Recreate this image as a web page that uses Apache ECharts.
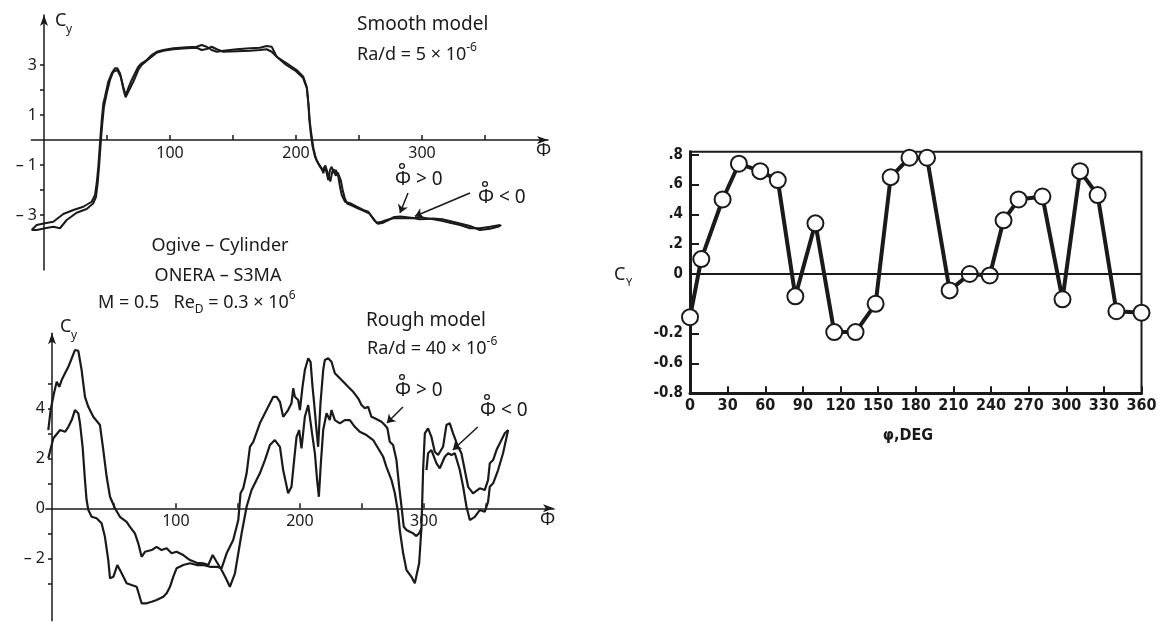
<!DOCTYPE html>
<html>
<head>
<meta charset="utf-8">
<script src="https://cdn.jsdelivr.net/npm/echarts@6/dist/echarts.min.js"></script>
<style>
  html, body { margin: 0; padding: 0; background: #fff; }
  #chart { width: 1158px; height: 625px; }
</style>
</head>
<body>
<div id="chart"></div>
<script>
// ---- Smooth model, two sweep directions (phi in degrees, Cy) ----
const smoothPhiA = [-9.8,-5.8,0.8,7.4,15.3,23.3,31.2,37.8,40.5,41.8,43.1,44.4,45.8,47.1,48.4,51.0,53.7,56.3,58.2,60.3,62.9,64.8,66.9,69.6,72.2,74.8,77.5,81.5,85.5,89.4,94.7,102.6,113.2,121.2,125.2,129.1,133.1,137.1,142.3,152.9,163.5,171.4,176.7,180.7,183.3,184.7,192.6,200.5,205.8,208.5,209.8,210.6,211.7,213.2,215.1,217.7,220.4,221.7,223,224.4,225.6,227,228.3,230.2,231.7,233.6,234.9,236.3,238.9,242.9,248.2,253.4,257.4,261.3,264,268,272,277.2,285.2,293.1,298.4,303.7,309,315.6,322.2,330.2,338.1,346,354,362];
const smoothCyA  = [-3.6,-3.40,-3.33,-3.27,-2.96,-2.80,-2.67,-2.47,-2.20,-1.73,-1.07,-0.13,0.80,1.47,1.73,2.33,2.67,2.87,2.87,2.67,2.13,1.80,2.07,2.40,2.67,2.93,3.07,3.20,3.40,3.53,3.60,3.67,3.71,3.73,3.80,3.73,3.60,3.53,3.57,3.63,3.67,3.69,3.76,3.73,3.47,3.33,3.07,2.80,2.53,2.13,1.47,0.80,0.27,-0.27,-0.67,-0.93,-1.13,-1.33,-1.07,-1.33,-1.60,-1.20,-1.07,-1.33,-1.20,-1.47,-1.87,-2.20,-2.47,-2.53,-2.67,-2.80,-2.87,-3.13,-3.31,-3.27,-3.20,-3.13,-3.13,-3.13,-3.09,-3.13,-3.17,-3.23,-3.31,-3.40,-3.53,-3.53,-3.47,-3.40];
const smoothPhiB = [-9.8,-5.8,0.8,7.4,12.7,18,25.9,33.9,39.1,41.3,42.6,43.7,45,46.3,47.6,49.8,52.4,55,58.2,60.9,63.5,64.8,66.9,70.9,74.8,77.5,81.5,85.5,89.4,94.7,102.6,113.2,121.2,125.2,129.1,133.1,137.1,142.3,152.9,163.5,171.4,176.7,180.7,184.7,192,200,205.5,208.7,210,211,212.2,213.8,216,218.8,221,223.3,225.5,227.2,228.8,230,231.5,233.2,235.5,237,238.5,240.5,244,249,254,258,262,265,268.5,273,278,283,288,293,298,304,309,316,322,330,338,346,354,361,363];
const smoothCyB  = [-3.6,-3.60,-3.53,-3.47,-3.53,-3.20,-2.91,-2.76,-2.53,-2.27,-1.73,-1.07,-0.13,0.67,1.33,1.87,2.40,2.73,2.80,2.53,1.93,1.71,1.93,2.33,2.80,3.00,3.17,3.33,3.49,3.57,3.63,3.67,3.69,3.60,3.64,3.73,3.63,3.53,3.55,3.57,3.60,3.63,3.53,3.33,3.01,2.75,2.49,2.06,1.37,0.72,0.22,-0.33,-0.78,-1.05,-1.22,-1.02,-1.38,-1.66,-1.26,-1.17,-1.43,-1.30,-1.60,-1.99,-2.29,-2.54,-2.61,-2.73,-2.84,-2.93,-3.21,-3.35,-3.32,-3.21,-3.08,-3.06,-3.09,-3.12,-3.17,-3.16,-3.14,-3.17,-3.24,-3.34,-3.44,-3.60,-3.55,-3.46,-3.40];

// ---- Rough model, two sweep directions (null = gap in the trace) ----
const roughPhiP = [-3,1.1,6.5,10.5,13.2,15.9,18.5,21.2,22.6,24.7,26.6,27.9,29.3,32,36,40,42.7,45.4,46.8,49.5,52.7,56.2,60.2,64.2,68.3,72.3,76.3,80.4,84.4,89.8,92.5,95.2,97.8,100.5,105.9,111.3,116.7,122,127.4,132.8,136.8,140.9,146.2,150.3,152.1,154.3,157,159.7,162.4,167.7,173.1,178.5,181.2,183.9,186.5,190.5,193.2,194.6,195.9,198.6,200,202.1,204,206.7,208.6,210.2,211.5,213.4,214.7,216.6,218.8,220.1,222.8,225.5,228.2,232.2,236.2,238.9,243,247,249.7,252.4,255.1,257.7,260.4,263.1,265.8,268.5,270.6,272.5,275.2,276.6,277.9,280.1,282,283.8,286,288.7,291.3,294,296.2,298.1,300,302.1,303.4,306.1,310.2,312.9,316.9,319.6,322.3,325,329,331.7,334.4,337.1,341.1,345.1,349.1,351.8,353.2,355.9,359.9,363.9,368];
const roughCyP  = [2.00,2.80,3.13,3.06,3.26,3.53,3.93,3.80,3.40,2.46,1.13,0.33,-0.07,-0.34,-0.40,-0.60,-1.14,-2.07,-2.80,-2.74,-2.27,-2.60,-3.00,-3.07,-3.14,-3.80,-3.80,-3.74,-3.67,-3.54,-3.40,-3.14,-2.74,-2.40,-2.27,-2.20,-2.27,-2.27,-2.34,-2.34,-2.40,-1.80,-1.27,-0.47,0.60,0.80,1.40,2.46,2.66,3.40,3.93,4.46,4.46,4.26,3.66,3.93,4.20,4.80,4.46,4.33,3.93,4.86,5.53,6.00,5.86,4.86,4.20,3.13,2.46,4.20,5.53,5.93,6.00,5.86,5.40,5.20,5.00,4.86,4.66,4.40,4.13,4.00,4.06,3.66,3.60,3.53,3.46,3.33,3.20,2.66,2.53,2.46,1.93,0.86,0.06,-0.74,-0.87,-0.94,-1.00,-1.11,-1.00,-0.80,null,1.53,2.20,2.33,1.80,1.60,2.06,2.20,2.13,2.20,1.53,0.86,0.06,-0.47,-0.34,-0.07,-0.14,0.26,0.86,1.00,1.53,2.20,3.13];
const roughPhiU = [-3,-1.1,1.6,3.8,5.9,7.8,10.5,13.2,15.9,18.5,21.2,23.9,26.6,29.3,33.3,38.7,41.4,44.1,46.8,50.8,54.8,60.2,62.9,66.9,69.6,72.3,75,80.4,84.4,88.4,92.5,96.5,100.5,105.9,111.3,116.7,122,126.1,129.6,132.8,136.8,140.3,143.5,147.6,153,157,161,167.7,171.8,175.8,179.8,183.9,186.5,190.5,193.2,195.9,197.3,199.4,201.3,204,206.7,208,210.2,212.1,213.9,215.3,216.9,218.8,221.5,224.1,225.5,228.2,232.2,236.2,240.3,244.3,248.3,253.7,259.1,263.1,267.2,269.8,273.9,276.6,279.3,280.6,283.3,286,290,292.7,294,296.2,298.1,299.4,300.8,303.4,306.1,308.8,311.5,315.5,318.2,320.9,323.6,327.6,330.3,333,335.7,339.7,345.1,349.1,351.8,353.2,355.9,358.6,361.3,365.3,368];
const roughCyU  = [3.13,3.93,4.60,5.06,4.86,5.13,5.40,5.66,6.00,6.33,6.30,5.53,4.46,4.06,3.66,3.33,2.33,1.26,0.46,0.00,-0.34,-0.54,-0.74,-1.00,-1.40,-1.94,-1.74,-1.67,-1.54,-1.67,-1.60,-1.80,-1.74,-1.87,-2.07,-2.18,-2.20,-2.27,-1.87,-2.14,-2.47,-2.80,-3.14,-2.60,-1.00,0.06,0.73,1.40,1.93,2.53,2.73,2.46,1.53,0.60,0.86,2.20,2.86,3.13,2.40,3.66,4.13,3.66,2.86,2.20,1.13,0.46,1.80,3.13,3.80,3.53,3.93,3.53,3.40,3.53,3.53,3.26,3.06,2.93,2.73,2.40,2.06,1.66,1.13,0.60,-0.20,-0.87,-1.80,-2.47,-2.74,-3.00,-3.07,-2.20,-0.74,1.53,3.00,3.20,2.86,2.26,2.13,2.46,3.33,3.40,3.00,2.46,2.20,1.53,0.86,0.60,0.80,0.73,1.13,1.80,1.93,2.33,2.60,3.00,3.13];

// ---- Right panel: Cy against roll angle ----
const windPhi = [0,9,26,39,56,70,84,100,115,132,148,160,175,189,207,223,239,250,262,281,297,311,325,340,360];
const windCy  = [-0.29,0.10,0.50,0.74,0.69,0.63,-0.15,0.34,-0.39,-0.39,-0.20,0.65,0.78,0.78,-0.11,0.00,-0.01,0.36,0.50,0.52,-0.17,0.69,0.53,-0.25,-0.26];

// ---- Tick positions and tick label texts ----
const phiTickValues  = [50,100,150,200,250,300,350];
const phiLabelValues = [100,200,300];
const smoothTickValues  = [-3,-2,-1,1,2,3];
const smoothLabelValues = [-3,-1,1,3];
const roughTickValues   = [-3,-2,-1,1,2,3,4,5];
const roughLabelValues  = [-2,0,2,4];
const windTickValues = [-0.8,-0.6,-0.4,0,0.2,0.4,0.6,0.8];
const windTickLabels = ['-0.8','-0.6','-0.2','0','.2','.4','.6','.8'];

const INK = '#1a1a1a';
const FONT = '"Noto Sans", "Open Sans", sans-serif';
const NARROW = '"Liberation Sans Narrow", "DejaVu Sans Condensed", sans-serif';

// panel geometry: the two left panels keep their axes crossing at the origin,
// so each axis is shifted inward from the grid edge by a fixed offset
const SMOOTH = { left: 31.4, top: 15, width: 516.6, height: 255, xOff: -130, yOff: -12.6 };
const ROUGH  = { left: 45.8, top: 333.3, width: 508.2, height: 287.5, xOff: -112.5, yOff: -6.2 };

const zip = (xs, ys) => xs.map((x, i) => [x, ys[i]]);
const dashNum = v => (v < 0 ? '\u2013 ' + Math.abs(v) : String(v));

function leftXAxis(gridIndex, min, max, offset) {
  return {
    gridIndex, type: 'value', min, max, position: 'bottom', offset,
    axisLine: { show: true, onZero: false, symbol: ['none', 'arrow'], symbolSize: [6, 11],
      lineStyle: { color: INK, width: 1.5 } },
    axisTick: { show: true, inside: true, length: 5, customValues: phiTickValues,
      lineStyle: { color: INK, width: 1.5 } },
    axisLabel: { customValues: phiLabelValues, color: INK, fontSize: 16, fontFamily: FONT, margin: 5 },
    splitLine: { show: false }
  };
}
function leftYAxis(gridIndex, min, max, ticks, labels, offset) {
  return {
    gridIndex, type: 'value', min, max, position: 'left', offset,
    axisLine: { show: true, onZero: false, symbol: ['none', 'arrow'], symbolSize: [6, 11],
      lineStyle: { color: INK, width: 1.5 } },
    axisTick: { show: true, length: 4, customValues: ticks, lineStyle: { color: INK, width: 1.5 } },
    axisLabel: { customValues: labels, formatter: dashNum, color: INK, fontSize: 16,
      fontFamily: FONT, margin: 7 },
    splitLine: { show: false }
  };
}
function curve(name, xi, data, width) {
  return {
    name, type: 'line', xAxisIndex: xi, yAxisIndex: xi, data,
    showSymbol: false, symbol: 'none', connectNulls: false, clip: false,
    lineStyle: { color: INK, width }, silent: true, animation: false
  };
}
const arrowLine = pairs => ({
  silent: true, symbol: ['none', 'arrow'], symbolSize: 8, animation: false,
  label: { show: false }, lineStyle: { color: INK, width: 1.5, type: 'solid' },
  data: pairs.map(p => [{ coord: p[0] }, { coord: p[1] }])
});

function txt(x, y, text, size, align) {
  return {
    type: 'text', x, y, silent: true,
    style: { text, fill: INK, font: size + 'px ' + FONT, textVerticalAlign: 'middle',
      textAlign: align || 'left' }
  };
}
function richTxt(x, y, text, size) {
  return {
    type: 'text', x, y, silent: true,
    style: {
      text, fill: INK, textVerticalAlign: 'middle',
      rich: {
        n: { fontSize: size, fontFamily: FONT, color: INK, lineHeight: 26 },
        sup: { fontSize: 12, fontFamily: FONT, color: INK, lineHeight: 26, verticalAlign: 'top' },
        sub: { fontSize: 12, fontFamily: FONT, color: INK, lineHeight: 26, verticalAlign: 'bottom' }
      }
    }
  };
}
// "Phi-dot" sweep label: capital phi with a small ring above it
function phiDot(x, y, rel) {
  return [
    txt(x, y, '\u03A6 ' + rel + ' 0', 19),
    { type: 'circle', silent: true, shape: { cx: x + 7, cy: y - 14, r: 2.4 },
      style: { fill: 'none', stroke: INK, lineWidth: 1.3 } }
  ];
}

const chart = echarts.init(document.getElementById('chart'), null, { renderer: 'canvas' });
chart.setOption({
  backgroundColor: '#ffffff',
  animation: false,
  grid: [
    { left: SMOOTH.left, top: SMOOTH.top, width: SMOOTH.width, height: SMOOTH.height, outerBoundsMode: 'none' },
    { left: ROUGH.left, top: ROUGH.top, width: ROUGH.width, height: ROUGH.height, outerBoundsMode: 'none' },
    { left: 690, top: 151.8, width: 451.5, height: 241.4, outerBoundsMode: 'none',
      show: true, borderColor: INK, borderWidth: 2, backgroundColor: 'transparent' }
  ],
  xAxis: [
    leftXAxis(0, -10, 400, SMOOTH.xOff),
    leftXAxis(1, -5, 405, ROUGH.xOff),
    {
      gridIndex: 2, type: 'value', min: 0, max: 360, interval: 30,
      axisLine: { show: true, onZero: false, lineStyle: { color: INK, width: 3 } },
      axisTick: { show: true, inside: true, length: 7, lineStyle: { color: INK, width: 2 } },
      axisLabel: { color: INK, fontSize: 16, fontWeight: 'bold', fontFamily: NARROW, margin: 5 },
      splitLine: { show: false }
    }
  ],
  yAxis: [
    leftYAxis(0, -5.2, 5, smoothTickValues, smoothLabelValues, SMOOTH.yOff),
    leftYAxis(1, -4.5, 7, roughTickValues, roughLabelValues, ROUGH.yOff),
    {
      gridIndex: 2, type: 'value', min: -0.8, max: 0.82,
      axisLine: { show: true, onZero: false, lineStyle: { color: INK, width: 3 } },
      axisTick: { show: true, inside: true, length: 9, customValues: windTickValues,
        lineStyle: { color: INK, width: 2 } },
      axisLabel: {
        customValues: windTickValues, color: INK, fontSize: 15, fontWeight: 'bold',
        fontFamily: NARROW, margin: 7,
        formatter: v => {
          const i = windTickValues.findIndex(t => Math.abs(t - v) < 1e-6);
          return i < 0 ? '' : windTickLabels[i];
        }
      },
      splitLine: { show: false }
    }
  ],
  series: [
    Object.assign(curve('\u03A6 > 0', 0, zip(smoothPhiA, smoothCyA), 2), {
      markLine: arrowLine([
        [[288.9, -2.12], [282.5, -2.92]],
        [[338.1, -2.12], [294.4, -3.05]]
      ])
    }),
    curve('\u03A6 < 0', 0, zip(smoothPhiB, smoothCyB), 2),
    Object.assign(curve('\u03A6 > 0', 1, zip(roughPhiP, roughCyP), 2.2), {
      markLine: arrowLine([
        [[283.1, 4.05], [270.2, 3.41]],
        [[343.5, 3.25], [323.4, 2.33]]
      ])
    }),
    curve('\u03A6 < 0', 1, zip(roughPhiU, roughCyU), 2.2),
    {
      name: 'Cy', type: 'line', xAxisIndex: 2, yAxisIndex: 2,
      data: zip(windPhi, windCy),
      symbol: 'circle', symbolSize: 16, showSymbol: true, clip: false,
      itemStyle: { color: '#ffffff', borderColor: INK, borderWidth: 2 },
      lineStyle: { color: INK, width: 4 },
      silent: true, animation: false, z: 3,
      markLine: {
        silent: true, symbol: ['none', 'none'], animation: false, label: { show: false },
        lineStyle: { color: INK, width: 2, type: 'solid' },
        data: [{ yAxis: 0 }]
      }
    }
  ],
  graphic: [].concat(
    // top-left panel
    txt(55, 21, 'C', 18),
    txt(66, 30, 'y', 12),
    txt(536, 151, '\u03A6', 18),
    txt(357, 25, 'Smooth model', 19),
    richTxt(357, 55, '{n|Ra/d = 5 \u00D7 10}{sup|-6}', 18),
    phiDot(395, 180, '>'),
    phiDot(478, 198, '<'),
    txt(220, 246, 'Ogive \u2013 Cylinder', 18, 'center'),
    txt(218, 276, 'ONERA \u2013 S3MA', 18, 'center'),
    richTxt(98, 303, '{n|M = 0.5   Re}{sub|D}{n| = 0.3 \u00D7 10}{sup|6}', 18),
    // bottom-left panel
    txt(60, 327, 'C', 18),
    txt(71, 336, 'y', 12),
    txt(540, 520, '\u03A6', 18),
    txt(366, 321, 'Rough model', 19),
    richTxt(367, 349, '{n|Ra/d = 40 \u00D7 10}{sup|-6}', 18),
    phiDot(395, 391, '>'),
    phiDot(480, 411, '<'),
    // right panel
    txt(614, 275, 'C', 18),
    txt(626, 283, 'Y', 11),
    { type: 'text', x: 908, y: 436, silent: true,
      style: { text: '\u03C6,DEG', fill: INK, font: 'bold 16px ' + NARROW,
        textAlign: 'center', textVerticalAlign: 'middle' } }
  )
});
</script>
</body>
</html>
